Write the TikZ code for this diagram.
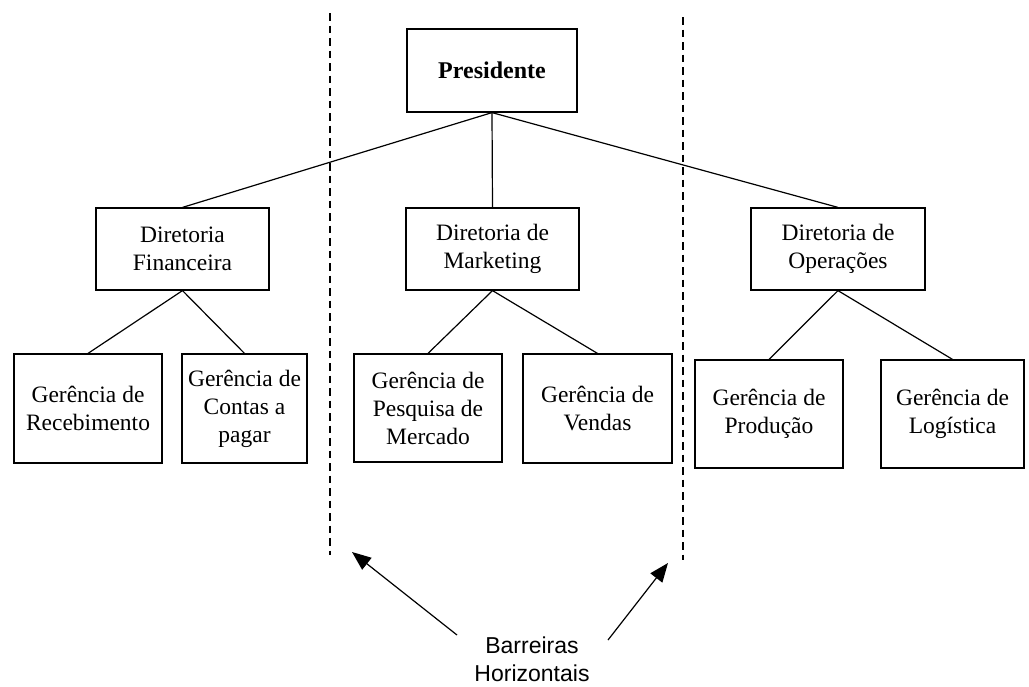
\documentclass[tikz,border=0pt]{standalone}
\usepackage{fontspec}
\setmainfont{Liberation Serif}
\newfontfamily\labelsans{Liberation Sans}
\usetikzlibrary{arrows.meta}

\tikzset{
  unit/.style={draw=black, line width=1.2pt, fill=white, align=center, inner sep=0pt,
    font=\fontsize{23.5}{28}\selectfont},
  link/.style={line width=1.2pt},
  barrier/.style={line width=1.3pt, dash pattern=on 7.5pt off 5pt},
  pointer/.style={line width=1.2pt, -{Triangle[length=19pt,width=15pt]}},
}

\begin{document}
\begin{tikzpicture}[x=1pt, y=-1pt]
\useasboundingbox (0,0) rectangle (1029,686);

% dashed barriers between departments
\coordinate (bl1) at (330,13);
\coordinate (bl2) at (330,555);
\coordinate (br1) at (683,17);
\coordinate (br2) at (683,560);
\draw[barrier] (bl1) -- (bl2);
\draw[barrier] (br1) -- (br2);

% top level
\node[unit, minimum width=170pt, minimum height=83pt, font=\fontsize{24}{28}\selectfont\bfseries] (pres) at (492,70.5) {Presidente};

% directors
\node[unit, minimum width=173pt, minimum height=82pt] (fin) at (182.5,249) {Diretoria\\Financeira};
\node[unit, minimum width=173pt, minimum height=82pt] (mkt) at (492.5,249) {Diretoria de\\Marketing};
\node[unit, minimum width=174pt, minimum height=82pt] (ops) at (838,249) {Diretoria de\\Operações};

% managers
\node[unit, minimum width=148pt, minimum height=109pt] (rec) at (88,408.5) {Gerência de\\Recebimento};
\node[unit, minimum width=125pt, minimum height=109pt] (cap) at (244.5,408.5) {Gerência de\\Contas a\\pagar};
\node[unit, minimum width=148pt, minimum height=108pt] (pes) at (428,408) {Gerência de\\Pesquisa de\\Mercado};
\node[unit, minimum width=149pt, minimum height=109pt] (ven) at (597.5,408.5) {Gerência de\\Vendas};
\node[unit, minimum width=148pt, minimum height=108pt] (pro) at (769,414) {Gerência de\\Produção};
\node[unit, minimum width=143pt, minimum height=108pt] (lgs) at (952.5,414) {Gerência de\\Logística};

% reporting lines
\draw[link] (pres.south) -- (fin.north);
\draw[link] (pres.south) -- (mkt.north);
\draw[link] (pres.south) -- (ops.north);
\draw[link] (fin.south) -- (rec.north);
\draw[link] (fin.south) -- (cap.north);
\draw[link] (mkt.south) -- (pes.north);
\draw[link] (mkt.south) -- (ven.north);
\draw[link] (ops.south) -- (pro.north);
\draw[link] (ops.south) -- (lgs.north);

% caption with arrows towards the barriers
\node[align=center, inner sep=0pt, font=\labelsans\fontsize{23}{28}\selectfont] (cap2) at (532,659) {Barreiras\\Horizontais};
\coordinate (la) at (457,635);
\coordinate (lt) at (352,552);
\coordinate (ra) at (608,640);
\coordinate (rt) at (668,563);
\draw[pointer] (la) -- (lt);
\draw[pointer] (ra) -- (rt);
\end{tikzpicture}
\end{document}
